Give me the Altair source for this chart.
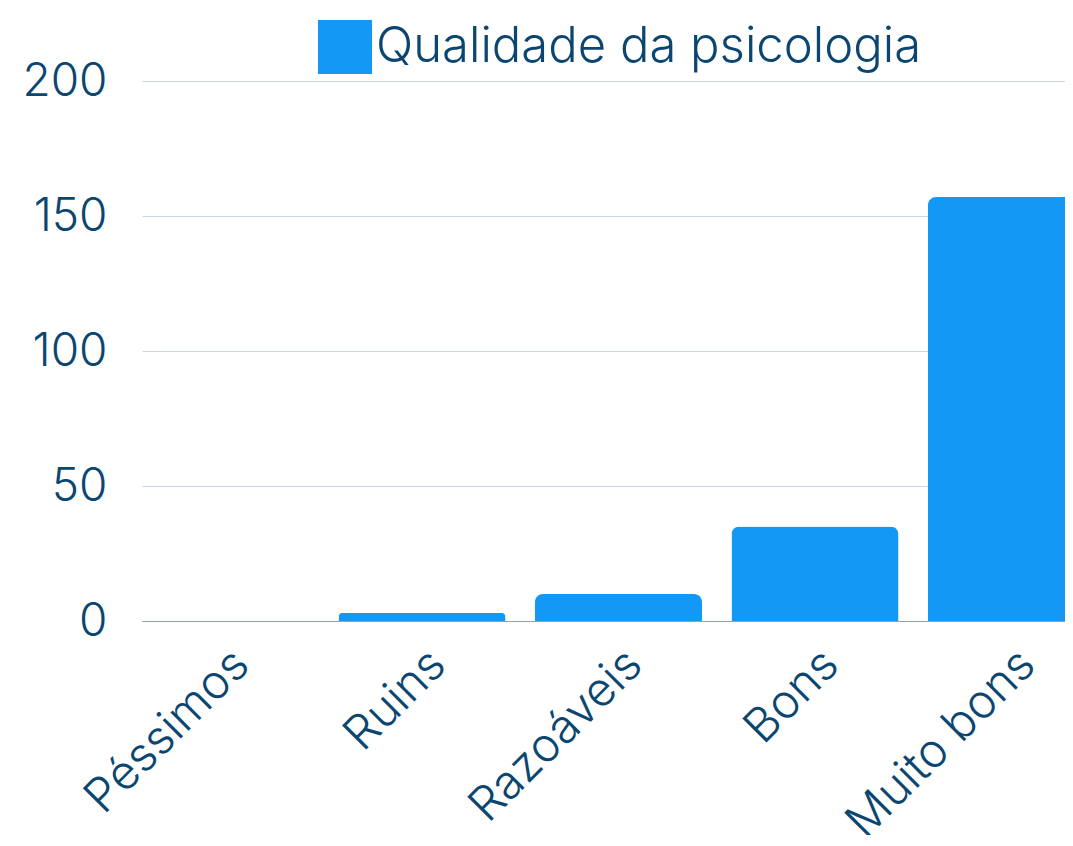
import altair as alt
import pandas as pd

categories = ["Péssimos", "Ruins", "Razoáveis", "Bons", "Muito bons"]
values = [0, 3, 10, 35, 157]
series_name = "Qualidade da psicologia"
y_ticks = [0, 50, 100, 150, 200]

df = pd.DataFrame({"categoria": categories, "valor": values})

TEXT = "#0b4671"
BAR = "#1399f5"
FONT = "Inter"

chart = (
    alt.Chart(df)
    .transform_calculate(serie=f"'{series_name}'")
    .mark_bar(cornerRadiusTopLeft=8, cornerRadiusTopRight=8)
    .encode(
        x=alt.X(
            "categoria:N",
            sort=categories,
            scale=alt.Scale(range=[0, 953], paddingInner=0.15, paddingOuter=0),
            axis=alt.Axis(
                title=None,
                labelAngle=-45,
                labelFontSize=47,
                labelColor=TEXT,
                labelFont=FONT,
                labelFontWeight=300,
                labelLimit=0,
                labelOverlap=False,
                ticks=False,
                grid=False,
                labelPadding=20,
                domainColor="#8fa3b3",
                domainWidth=1,
            ),
        ),
        y=alt.Y(
            "valor:Q",
            scale=alt.Scale(domain=[0, 200]),
            axis=alt.Axis(
                title=None,
                values=y_ticks,
                labelFontSize=46,
                labelColor=TEXT,
                labelFont=FONT,
                labelFontWeight=300,
                ticks=False,
                domain=False,
                labelPadding=35,
                gridColor="#c8d7e3",
                gridWidth=1,
            ),
        ),
        color=alt.Color(
            "serie:N",
            scale=alt.Scale(domain=[series_name], range=[BAR]),
            legend=alt.Legend(
                title=None,
                orient="none",
                legendX=176,
                legendY=-61,
                symbolType="square",
                symbolSize=2916,
                symbolStrokeWidth=0,
                symbolOpacity=1,
                labelFontSize=49,
                labelFont=FONT,
                labelFontWeight=300,
                labelColor=TEXT,
                labelOffset=4,
                labelLimit=0,
                padding=0,
            ),
        ),
    )
    .properties(
        width=923,
        height=540,
        autosize=alt.AutoSizeParams(type="none"),
        padding={"left": 134, "top": 73, "right": 0, "bottom": 214},
    )
    .configure(
        background="white",
        style={"cell": {"stroke": "transparent", "strokeWidth": 0}},
    )
    .configure_view(strokeWidth=0, stroke="transparent")
    .configure_axisBand(grid=False)
    .configure_axisY(domain=False)
)

chart.save("out.html", embed_options={"renderer": "svg", "actions": False})
